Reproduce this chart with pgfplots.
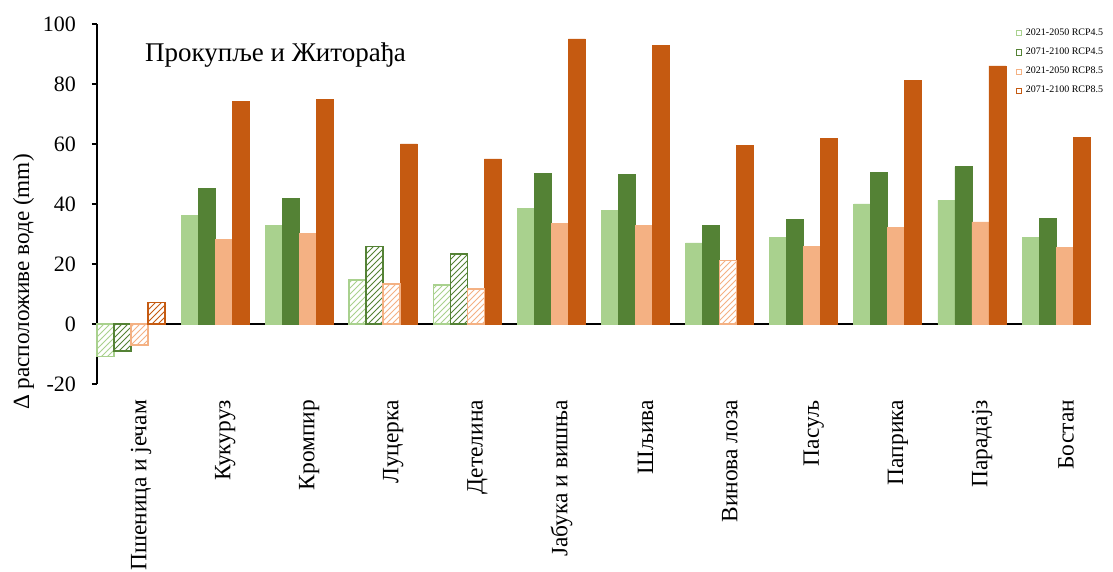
\documentclass[border=0pt]{standalone}
\usepackage{fontspec}
\setmainfont{Liberation Serif}
\usepackage{pgfplots}
\pgfplotsset{compat=1.18}
\usetikzlibrary{patterns}
\definecolor{lgreen}{HTML}{A9D18E}
\definecolor{dgreen}{HTML}{548235}
\definecolor{lorange}{HTML}{F4B183}
\definecolor{dorange}{HTML}{C55A11}
\begin{document}
\begin{tikzpicture}
\begin{axis}[
  name=ax,
  scale only axis,
  width=496.5pt, height=180pt,
  xmin=-0.404, xmax=11.404,
  ymin=-20, ymax=100,
  ytick={-20,0,20,40,60,80,100},
  axis lines*=left,
  x axis line style={draw=none},
  xtick style={draw=none},
  ytick style={black, line width=0.8pt},
  y axis line style={black, line width=0.8pt},
  tick align=outside,
  major tick length=2.5pt,
  xtick={0.12,1.12,2.12,3.12,4.12,5.12,6.12,7.12,8.12,9.12,10.12,11.12},
  xticklabels={Пшеница и јечам,Кукуруз,Кромпир,Луцерка,Детелина,Јабука и вишња,Шљива,Винова лоза,Пасуљ,Паприка,Парадајз,Бостан},
  xticklabel style={rotate=90, anchor=east, font=\fontsize{11.7}{13}\selectfont, xshift=-2pt},
  yticklabel style={font=\fontsize{11}{13}\selectfont, xshift=-4.5pt},
  /pgf/number format/assume math mode=true,
  ylabel={Δ расположиве воде (mm)},
  ylabel style={font=\fontsize{11.6}{13}\selectfont, at={(axis description cs:-0.074,0.283)}, anchor=center},
  extra y ticks={0},
  extra y tick labels={},
  extra y tick style={grid=major, major grid style={black, line width=0.8pt}, tick style={draw=none}},
  ybar, bar width=8.5pt,
  clip=false,
  legend style={at={(rel axis cs:0.925,1.0)}, anchor=north west, draw=none, fill=none,
    font=\fontsize{5}{6}\selectfont, inner sep=0pt, row sep=0.8pt,
    legend cell align=left},
  legend image code/.code={\draw[#1,fill=white,line width=0.4pt] (0pt,-1.3pt) rectangle (2.6pt,1.3pt);},
]
% solid bars
\addplot[draw=lgreen, fill=lgreen, bar shift=-12.75pt] coordinates {(1,36.1) (2,32.9) (5,38.6) (6,37.7) (7,27.0) (8,28.8) (9,40.0) (10,41.3) (11,28.9)};
\addlegendentry{2021-2050 RCP4.5}
\addplot[draw=dgreen, fill=dgreen, bar shift=-4.25pt] coordinates {(1,45.1) (2,41.7) (5,50.2) (6,49.7) (7,32.8) (8,34.7) (9,50.4) (10,52.4) (11,35.2)};
\addlegendentry{2071-2100 RCP4.5}
\addplot[draw=lorange, fill=lorange, bar shift=4.25pt] coordinates {(1,28.2) (2,30.1) (5,33.6) (6,32.8) (8,25.7) (9,32.2) (10,34.0) (11,25.4)};
\addlegendentry{2021-2050 RCP8.5}
\addplot[draw=dorange, fill=dorange, bar shift=12.75pt] coordinates {(1,74.3) (2,74.9) (3,60.0) (4,55.0) (5,95.0) (6,92.7) (7,59.6) (8,61.7) (9,81.3) (10,86.0) (11,62.1)};
\addlegendentry{2071-2100 RCP8.5}
% hatched bars
\addplot[forget plot, draw=lgreen, line width=0.8pt, fill=white, postaction={pattern=north east lines, pattern color=lgreen}, bar shift=-12.75pt] coordinates {(0,-10.8) (3,14.7) (4,12.9)};
\addplot[forget plot, draw=dgreen, line width=0.8pt, fill=white, postaction={pattern=north east lines, pattern color=dgreen}, bar shift=-4.25pt] coordinates {(0,-9.0) (3,25.8) (4,23.3)};
\addplot[forget plot, draw=lorange, line width=0.8pt, fill=white, postaction={pattern=north east lines, pattern color=lorange}, bar shift=4.25pt] coordinates {(0,-7.0) (3,13.3) (4,11.6) (7,21.1)};
\addplot[forget plot, draw=dorange, line width=0.8pt, fill=white, postaction={pattern=north east lines, pattern color=dorange}, bar shift=12.75pt] coordinates {(0,7.1)};
\node[anchor=west, font=\fontsize{13.5}{15}\selectfont, inner sep=0pt] at (rel axis cs:0.048,0.914) {Прокупље и Житорађа};
\end{axis}
\pgfresetboundingbox
\path[use as bounding box] ([xshift=-48.5pt,yshift=-94pt]ax.south west) rectangle ([xshift=11.5pt,yshift=12pt]ax.north east);
\end{tikzpicture}
\end{document}
